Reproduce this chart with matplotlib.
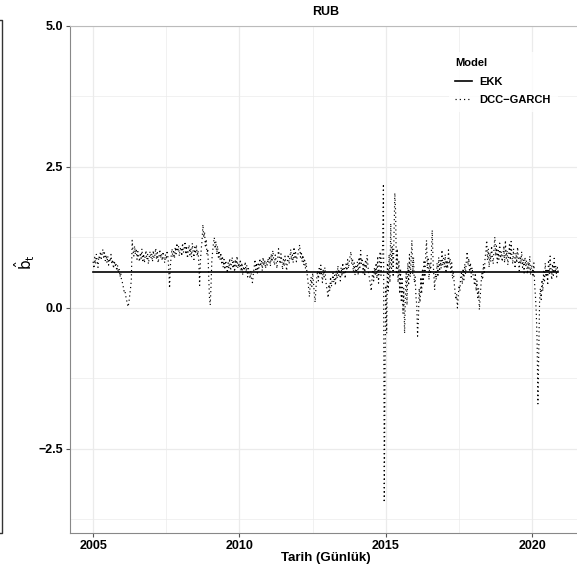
import matplotlib
matplotlib.use("Agg")
import matplotlib.pyplot as plt
from matplotlib.lines import Line2D
import numpy as np

plt.rcParams['font.family'] = ['Liberation Sans', 'DejaVu Sans']

# DCC-GARCH beta, read about every ten days from the picture
b2005 = [0.82, 0.70, 0.90, 0.78, 0.95, 0.84, 0.72, 0.92, 0.86, 1.00, 0.88, 0.96,
         1.04, 0.90, 0.98, 0.84, 0.94, 0.80, 0.92, 0.76, 0.88, 0.82, 0.95, 0.78,
         0.86, 0.70, 0.84, 0.74, 0.80, 0.66, 0.76, 0.62, 0.70, 0.55, 0.62, 0.48]
b2006 = [0.45, 0.38, 0.30, 0.32, 0.22, 0.15, 0.08, 0.02, 0.10, 0.22, 0.35, 0.50,
         1.20, 1.02, 0.92, 1.10, 0.95, 1.05, 0.86, 1.00, 0.90, 0.82, 0.98, 0.88,
         1.05, 0.84, 0.96, 0.80, 0.92, 1.02, 0.86, 0.95, 0.78, 0.90, 1.00, 0.88]
b2007 = [0.96, 0.82, 1.02, 0.88, 0.94, 1.06, 0.86, 0.98, 0.80, 0.92, 1.04, 0.88,
         0.96, 0.84, 1.00, 0.90, 0.80, 0.95, 0.86, 1.02, 0.90, 0.70, 0.35, 0.75,
         0.92, 1.05, 0.90, 1.00, 0.88, 1.08, 0.96, 1.15, 1.00, 1.10, 0.92, 1.04]
b2008 = [1.08, 0.92, 1.15, 0.98, 1.05, 1.18, 0.95, 1.10, 0.88, 1.02, 1.12, 0.94,
         1.06, 0.90, 1.15, 1.00, 0.86, 1.08, 0.96, 1.12, 0.92, 1.02, 0.80, 0.40,
         0.85, 1.05, 1.20, 1.48, 1.25, 1.35, 1.10, 1.22, 0.95, 1.05, 0.60, 0.20]
b2009 = [0.05, 0.40, 0.85, 1.00, 1.15, 1.25, 1.05, 1.18, 0.95, 1.10, 0.90, 1.02,
         0.85, 0.98, 0.80, 0.92, 0.72, 0.86, 0.68, 0.84, 0.75, 0.62, 0.80, 0.70,
         0.88, 0.66, 0.78, 0.90, 0.70, 0.82, 0.64, 0.86, 0.74, 0.92, 0.70, 0.80]
b2010 = [0.72, 0.86, 0.65, 0.80, 0.58, 0.74, 0.66, 0.82, 0.62, 0.76, 0.55, 0.70,
         0.60, 0.52, 0.66, 0.48, 0.45, 0.60, 0.72, 0.86, 0.68, 0.80, 0.62, 0.78,
         0.70, 0.88, 0.74, 0.84, 0.66, 0.90, 0.75, 0.85, 0.70, 0.82, 0.76, 0.88]
b2011 = [0.80, 0.92, 0.74, 0.96, 0.82, 1.02, 0.86, 0.76, 0.94, 0.84, 0.70, 0.88,
         1.05, 0.90, 0.78, 0.96, 0.84, 0.68, 0.86, 0.74, 0.92, 0.80, 0.66, 0.84,
         0.95, 0.78, 0.90, 1.04, 0.85, 0.94, 0.80, 1.08, 0.90, 0.98, 0.82, 0.92]
b2012 = [0.96, 1.05, 1.12, 0.90, 1.00, 0.82, 0.94, 0.76, 0.88, 0.70, 0.80, 0.62,
         0.50, 0.35, 0.20, 0.42, 0.55, 0.38, 0.62, 0.45, 0.25, 0.10, 0.35, 0.52,
         0.66, 0.48, 0.70, 0.58, 0.76, 0.60, 0.45, 0.68, 0.55, 0.72, 0.50, 0.38]
b2013 = [0.30, 0.18, 0.42, 0.30, 0.55, 0.38, 0.48, 0.62, 0.45, 0.58, 0.40, 0.66,
         0.52, 0.75, 0.58, 0.68, 0.48, 0.72, 0.56, 0.80, 0.62, 0.70, 0.52, 0.78,
         0.66, 0.86, 0.70, 0.82, 0.92, 1.00, 0.78, 0.88, 0.64, 0.80, 0.58, 0.74]
b2014 = [0.66, 0.82, 0.58, 0.90, 0.72, 1.02, 0.78, 0.88, 0.62, 0.80, 0.56, 0.86,
         0.70, 0.94, 0.74, 0.60, 0.50, 0.42, 0.30, 0.52, 0.68, 0.48, 0.72, 0.60,
         0.80, 0.52, 0.92, 0.44, 0.76, 1.00, 0.58, 0.85, 1.10, 2.20, -3.45, -1.00]
b2015 = [0.40, -0.45, 0.80, 0.30, 0.95, 0.45, 1.50, 0.70, 1.10, 0.55, 1.30, 2.04,
         1.70, 0.60, 1.05, 0.45, 0.85, 0.25, 0.70, 0.10, 0.55, -0.10, 0.35, -0.45,
         0.20, 0.65, 0.05, 0.80, 0.40, 0.95, 0.55, 0.85, 1.20, 0.60, 0.90, 0.45]
b2016 = [0.55, 0.20, 0.05, -0.50, -0.20, 0.35, 0.10, 0.55, 0.25, 0.70, 0.40, 0.85,
         0.55, 0.95, 1.20, 0.70, 0.90, 0.50, 0.80, 0.60, 1.00, 1.38, 0.85, 0.60,
         0.32, 0.65, 0.50, 0.80, 0.55, 0.90, 0.65, 0.85, 0.70, 1.03, 0.75, 0.88]
b2017 = [0.72, 0.95, 0.62, 0.85, 0.70, 1.03, 0.78, 0.88, 0.60, 0.80, 0.52, 0.66,
         0.45, 0.30, 0.15, 0.25, 0.00, 0.20, 0.40, 0.30, 0.55, 0.62, 0.42, 0.70,
         0.50, 0.78, 0.60, 0.85, 1.00, 0.76, 0.88, 0.64, 0.80, 0.55, 0.72, 0.60]
b2018 = [0.55, 0.40, 0.62, 0.30, 0.48, 0.15, 0.35, -0.03, 0.20, 0.42, 0.62, 0.50,
         0.78, 0.60, 0.88, 1.00, 1.20, 0.85, 1.05, 0.72, 0.98, 0.82, 1.10, 0.90,
         0.78, 1.05, 1.26, 0.92, 1.10, 0.80, 1.02, 0.86, 1.15, 0.88, 1.00, 0.82]
b2019 = [0.92, 1.10, 0.80, 1.20, 0.88, 1.02, 0.76, 0.96, 1.12, 0.85, 1.18, 0.92,
         0.78, 1.05, 0.86, 0.70, 0.98, 0.80, 1.08, 0.88, 0.66, 0.92, 0.78, 1.00,
         0.72, 0.86, 0.62, 0.90, 0.74, 0.84, 0.60, 0.82, 0.70, 0.92, 0.58, 0.76]
b2020 = [0.72, 0.55, 0.80, 0.40, 0.20, -0.10, -0.60, -1.70, -0.80, 0.10, 0.35, 0.15,
         0.50, 0.30, 0.65, 0.45, 0.80, 0.55, 0.70, 0.40, 0.85, 0.60, 0.92, 0.68,
         0.50, 0.78, 0.58, 0.88, 0.62, 0.75, 0.55, 0.72, 0.62]

ekk_beta = 0.64
years = list(range(2005, 2021))
yearly = [b2005, b2006, b2007, b2008, b2009, b2010, b2011, b2012,
          b2013, b2014, b2015, b2016, b2017, b2018, b2019, b2020]

t = []
dcc = []
for yr, vals in zip(years, yearly):
    for i, v in enumerate(vals):
        t.append(yr + i / 36.0)
        dcc.append(v)
t = np.array(t)
dcc = np.array(dcc)

fig = plt.figure(figsize=(5.77, 5.75), dpi=100)
ax = fig.add_axes([70/577, 42/575, 512/577, 507/575])

dots = (0, (1, 2.6))
ax.plot(t, dcc, color='black', lw=0.85, ls=dots)
ax.plot([t[0], t[-1]], [ekk_beta, ekk_beta], color='black', lw=1.2)

ax.set_xlim(2004.21, 2021.7)
ax.set_ylim(-3.99, 5.0)
ax.set_xticks([2005, 2010, 2015, 2020])
ax.set_xticks([2007.5, 2012.5, 2017.5], minor=True)
ax.set_yticks([-2.5, 0.0, 2.5, 5.0])
ax.set_yticklabels(['\u22122.5', '0.0', '2.5', '5.0'])
ax.set_yticks([-3.75, -1.25, 1.25, 3.75], minor=True)
ax.grid(which='major', color='#ebebeb', lw=0.9)
ax.grid(which='minor', color='#ebebeb', lw=0.5)
ax.set_axisbelow(True)
ax.tick_params(which='major', length=3, color='#555555', labelsize=9, pad=2)
ax.tick_params(which='minor', length=0)
for lab in ax.get_xticklabels() + ax.get_yticklabels():
    lab.set_fontweight('bold')
for s in ['top', 'right']:
    ax.spines[s].set_color('#bbbbbb')
for s in ['left', 'bottom']:
    ax.spines[s].set_color('#888888')

ax.set_title('RUB', fontsize=9, fontweight='bold', pad=8)
ax.set_xlabel('Tarih (Günlük)', fontsize=9.5, fontweight='bold', labelpad=0)
fig.text(25/577, 1 - 262/575, r'$\hat{\mathrm{b}}_\mathrm{t}$', rotation=90,
         fontsize=11, ha='center', va='center')

handles = [Line2D([], [], color='black', lw=1.2),
           Line2D([], [], color='black', lw=0.85, ls=dots)]
leg = fig.legend(handles, ['EKK', 'DCC\u2212GARCH'], title='Model',
                 loc='upper left', bbox_to_anchor=(443/577, 1 - 46/575),
                 frameon=True, fontsize=8, title_fontsize=8, handlelength=1.5,
                 borderpad=0.6, labelspacing=0.75, handletextpad=0.7)
leg.get_frame().set_edgecolor('none')
leg.get_frame().set_facecolor('white')
leg._legend_box.align = 'left'
leg.get_title().set_fontweight('bold')
for txt in leg.get_texts():
    txt.set_fontweight('bold')

# edge of the neighbouring panel, cut by the image border
fig.add_artist(Line2D([0, 2/577, 2/577, 0],
                      [1 - 20/575, 1 - 20/575, 1 - 533/575, 1 - 533/575],
                      transform=fig.transFigure, color='#333333', lw=1))

fig.savefig('out.png', dpi=100)
